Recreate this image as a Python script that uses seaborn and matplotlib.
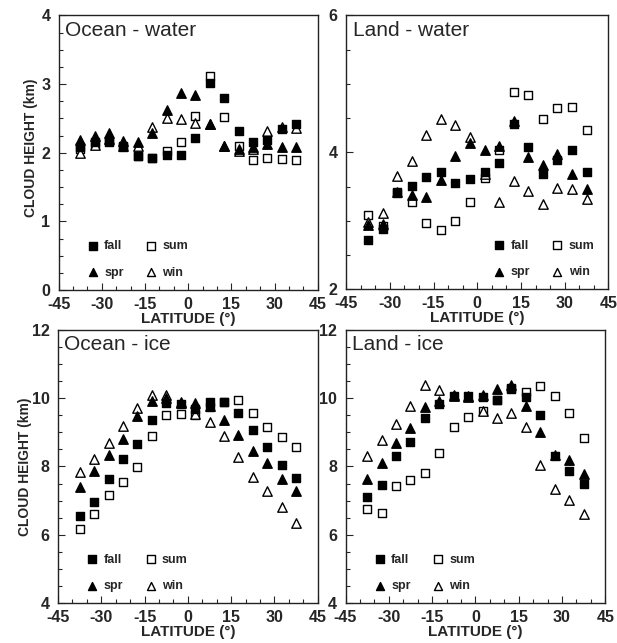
import numpy as np
import pandas as pd
import matplotlib
matplotlib.use("Agg")
import matplotlib.pyplot as plt
from matplotlib.ticker import MultipleLocator
import seaborn as sns

# latitude bin centres (deg)
lat = [-37.5, -32.5, -27.5, -22.5, -17.5, -12.5, -7.5, -2.5,
       2.5, 7.5, 12.5, 17.5, 22.5, 27.5, 32.5, 37.5]

# Ocean - water cloud height (km)
ow_fall = [2.08, 2.15, 2.15, 2.08, 1.95, 1.93, 1.96, 1.97, 2.22, 3.01, 2.80, 2.32, 2.16, 2.18, 2.34, 2.42]
ow_spr = [2.19, 2.25, 2.29, 2.17, 2.15, 2.29, 2.62, 2.87, 2.84, 2.42, 2.10, 2.05, 2.08, 2.12, 2.09, 2.09]
ow_sum = [2.06, 2.12, 2.17, 2.10, 1.95, 1.93, 2.03, 2.15, 2.53, 3.12, 2.52, 2.10, 1.89, 1.92, 1.91, 1.90]
ow_win = [1.99, 2.11, 2.20, 2.10, 2.10, 2.38, 2.51, 2.49, 2.44, 2.42, 2.10, 2.02, 2.05, 2.31, 2.37, 2.36]

# Land - water
lw_fall = [2.72, 2.88, 3.41, 3.51, 3.64, 3.71, 3.56, 3.61, 3.72, 3.84, 4.41, 4.08, 3.68, 3.89, 4.03, 3.72]
lw_spr = [2.94, 2.96, 3.42, 3.38, 3.35, 3.59, 3.94, 4.13, 4.03, 4.09, 4.46, 3.93, 3.81, 3.97, 3.69, 3.46]
lw_sum = [3.09, 2.92, 3.42, 3.27, 2.97, 2.86, 3.00, 3.27, 3.63, 4.04, 4.88, 4.84, 4.49, 4.65, 4.66, 4.33]
lw_win = [2.99, 3.11, 3.65, 3.87, 4.26, 4.49, 4.40, 4.22, 3.68, 3.28, 3.58, 3.44, 3.24, 3.48, 3.46, 3.32]

# Ocean - ice
oi_fall = [6.54, 6.96, 7.64, 8.22, 8.66, 9.36, 9.85, 9.84, 9.68, 9.89, 9.89, 9.58, 9.07, 8.58, 8.03, 7.67]
oi_spr = [7.40, 7.86, 8.34, 8.81, 9.49, 9.92, 10.00, 9.85, 9.87, 9.78, 9.37, 8.92, 8.45, 8.10, 7.64, 7.27]
oi_sum = [6.18, 6.61, 7.17, 7.54, 7.98, 8.90, 9.50, 9.53, 9.50, 9.75, 9.90, 9.94, 9.56, 9.17, 8.85, 8.56]
oi_win = [7.83, 8.22, 8.68, 9.19, 9.70, 10.10, 10.09, 9.90, 9.55, 9.29, 8.90, 8.29, 7.69, 7.28, 6.80, 6.35]

# Land - ice
li_fall = [7.11, 7.45, 8.32, 8.71, 9.42, 9.84, 10.07, 10.07, 10.04, 9.95, 10.28, 10.04, 9.50, 8.32, 7.86, 7.48]
li_spr = [7.64, 8.10, 8.68, 9.13, 9.75, 9.92, 10.10, 10.05, 10.10, 10.26, 10.40, 9.78, 9.00, 8.35, 8.19, 7.77]
li_sum = [6.77, 6.64, 7.43, 7.61, 7.81, 8.39, 9.17, 9.44, 9.61, 9.95, 10.30, 10.19, 10.36, 10.07, 9.58, 8.82]
li_win = [8.32, 8.79, 9.24, 9.77, 10.39, 10.25, 10.05, 10.02, 9.61, 9.42, 9.56, 9.17, 8.03, 7.35, 7.01, 6.62]

sns.set_style("ticks")
plt.rcParams["font.family"] = ["Liberation Sans", "DejaVu Sans"]
plt.rcParams["axes.unicode_minus"] = False

panels = [
    ("Ocean - water", ow_fall, ow_spr, ow_sum, ow_win, (0, 4), 1, 0.25, "lower left"),
    ("Land - water", lw_fall, lw_spr, lw_sum, lw_win, (2, 6), 2, 0.5, "lower right"),
    ("Ocean - ice", oi_fall, oi_spr, oi_sum, oi_win, (4, 12), 2, 0.5, "lower left"),
    ("Land - ice", li_fall, li_spr, li_sum, li_win, (4, 12), 2, 0.5, "lower left"),
]

fig = plt.figure(figsize=(6.17, 6.43), dpi=100)
boxes = [
    [0.095, 0.549, 0.420, 0.427],
    [0.561, 0.550, 0.425, 0.426],
    [0.094, 0.062, 0.421, 0.425],
    [0.560, 0.062, 0.421, 0.425],
]

styles = [  # (key, marker, filled)
    ("sum", "s", False),
    ("win", "^", False),
    ("fall", "s", True),
    ("spr", "^", True),
]

for i, (title, fall, spr, summ, win, ylim, ystep, yminor, legloc) in enumerate(panels):
    ax = fig.add_axes(boxes[i])
    data = {"fall": fall, "spr": spr, "sum": summ, "win": win}
    for key, mk, filled in styles:
        df = pd.DataFrame({"lat": lat, "h": data[key]})
        sns.scatterplot(data=df, x="lat", y="h", ax=ax, marker=mk, s=40 if mk == "s" else 46,
                        color="black" if filled else "white", edgecolor="black",
                        linewidth=1.0, label=key, zorder=3 if filled else 2)
    h, l = ax.get_legend_handles_labels()
    hd = dict(zip(l, h))
    order = ["fall", "spr", "sum", "win"]
    bb = (0.06, 0.0) if legloc == "lower left" else (0.99, 0.0)
    ax.legend([hd[k] for k in order], order, ncol=2, loc=legloc, bbox_to_anchor=bb,
              frameon=False, prop={"weight": "bold", "size": 9},
              handletextpad=0.3, columnspacing=1.6, labelspacing=1.15,
              handlelength=1.2, markerscale=0.85)

    ax.set_xlim(-45, 45)
    ax.set_ylim(*ylim)
    ax.xaxis.set_major_locator(MultipleLocator(15))
    ax.xaxis.set_minor_locator(MultipleLocator(5))
    ax.yaxis.set_major_locator(MultipleLocator(ystep))
    ax.yaxis.set_minor_locator(MultipleLocator(yminor))
    ax.tick_params(which="both", direction="in", top=False, right=False)
    ax.tick_params(which="major", length=5, width=0.8, labelsize=11.5)
    ax.tick_params(axis="x", which="major", pad=5)
    ax.tick_params(axis="y", which="major", pad=6)
    ax.tick_params(which="minor", length=3, width=0.8)
    for lab in ax.get_xticklabels() + ax.get_yticklabels():
        lab.set_fontweight("bold")
    for sp in ax.spines.values():
        sp.set_linewidth(1.0)
        sp.set_color("#222222")
    ax.set_xlabel("LATITUDE (°)", fontsize=11, fontweight="bold", labelpad=0)
    ax.set_ylabel("")
    ax.text(0.025, 0.98, title, transform=ax.transAxes, ha="left", va="top", fontsize=15)

fig.text(0.050, 0.770, "CLOUD HEIGHT (km)", rotation=90, ha="center", va="center",
         fontsize=10, fontweight="bold")
fig.text(0.040, 0.274, "CLOUD HEIGHT (km)", rotation=90, ha="center", va="center",
         fontsize=10, fontweight="bold")

fig.savefig("out.png", dpi=100)
